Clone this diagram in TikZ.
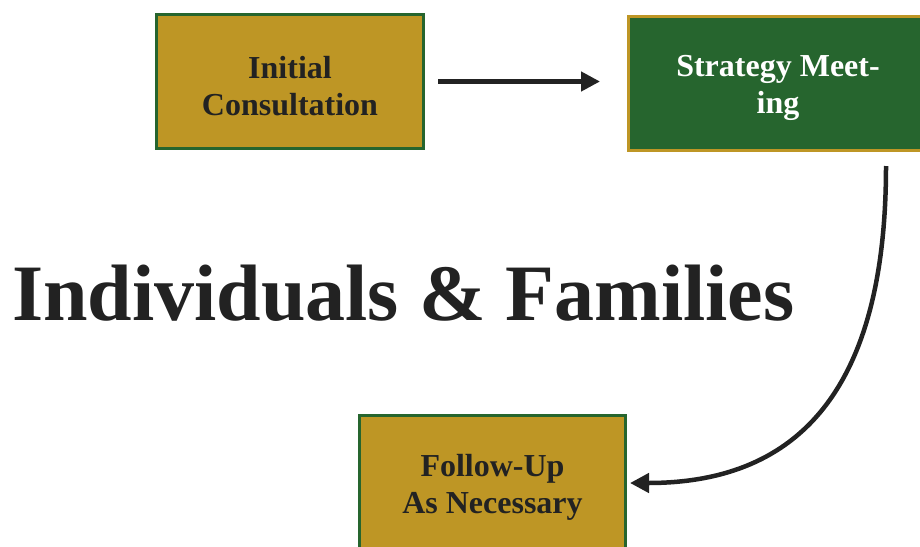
\documentclass[tikz,border=0pt]{standalone}
\usepackage{fontspec}
\setmainfont{Liberation Serif}
\usepackage{tikz}
\usetikzlibrary{arrows.meta}
\definecolor{gold}{RGB}{190,150,37}
\definecolor{leaf}{RGB}{38,101,46}
\definecolor{ink}{RGB}{34,34,34}
\newcommand{\dropline}{\rule{0pt}{31pt}}

\begin{document}
\begin{tikzpicture}[x=1pt,y=-1pt,
    stage/.style={draw,line width=3pt,align=center,font=\fontsize{32}{37}\selectfont\bfseries,
      inner sep=0pt},
    flow/.style={draw=ink,line width=4.5pt,-{Triangle[length=19pt,width=19pt]}}]
      \clip (0,0) rectangle (920,546);

      \node[stage,fill=gold,draw=leaf,text=ink,minimum width=267pt,minimum height=134pt]
        (consult) at (290,81.5) {\dropline Initial\\Consultation};
      \node[stage,fill=leaf,draw=gold,text=white,minimum width=299pt,minimum height=134pt]
        (strategy) at (778,83.5) {\dropline Strategy Meet-\\ing};
      \node[stage,fill=gold,draw=leaf,text=ink,minimum width=266pt,minimum height=135pt]
        (followup) at (492.5,483) {\dropline Follow-Up\\As Necessary};

      \node[text=ink,font=\fontsize{80}{96}\selectfont\bfseries,anchor=base west,inner sep=0pt]
        (title) at (12,320) {Individuals \& Families};

      \draw[flow,shorten <=13pt,shorten >=27pt] (consult.east) -- (consult.east -| strategy.west);
      \coordinate (bend) at ([xshift=-43pt,yshift=-14pt]strategy.south east);
      \draw[flow] (bend) .. controls +(0,234) and +(160,0) .. ([xshift=3pt]followup.east);
    \end{tikzpicture}
\end{document}
